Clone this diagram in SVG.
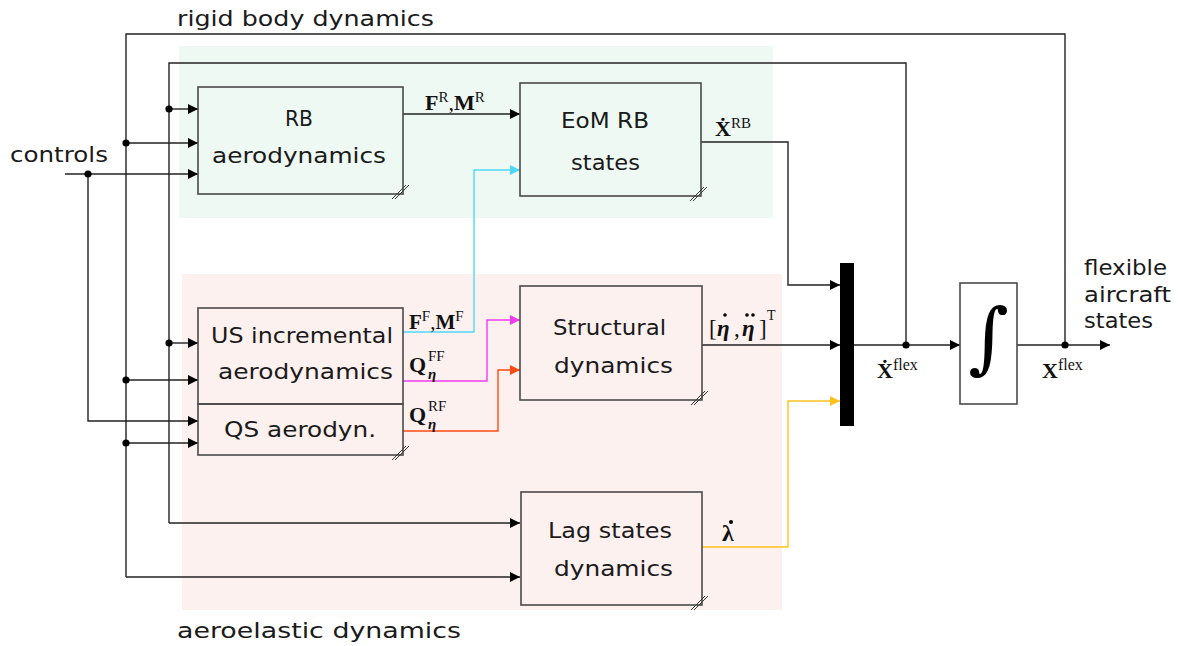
<svg xmlns="http://www.w3.org/2000/svg" width="1181" height="646" viewBox="0 0 1181 646">
<style>
.lbl{font-family:"DejaVu Sans","Liberation Sans",sans-serif;font-size:22px;fill:#1a1a1a}
.box{fill:none;stroke:#4a4a4a;stroke-width:1.6}
.wire{fill:none;stroke:#222;stroke-width:1.4}
.slash{stroke:#333;stroke-width:1}
.m{font-family:"Liberation Serif","DejaVu Serif",serif;fill:#111}
.b{font-weight:bold}
.bi{font-weight:bold;font-style:italic}
.dot{fill:#000}
</style>
<defs>
<marker id="ah" markerUnits="userSpaceOnUse" markerWidth="11" markerHeight="11" refX="10" refY="5" orient="auto"><path d="M0,0 L10,5 L0,10 z" fill="#000"/></marker>
<marker id="ahc" markerUnits="userSpaceOnUse" markerWidth="11" markerHeight="11" refX="10" refY="5" orient="auto"><path d="M0,0 L10,5 L0,10 z" fill="#4fd8f7"/></marker>
<marker id="ahm" markerUnits="userSpaceOnUse" markerWidth="11" markerHeight="11" refX="10" refY="5" orient="auto"><path d="M0,0 L10,5 L0,10 z" fill="#ee3cee"/></marker>
<marker id="aho" markerUnits="userSpaceOnUse" markerWidth="11" markerHeight="11" refX="10" refY="5" orient="auto"><path d="M0,0 L10,5 L0,10 z" fill="#ff4a14"/></marker>
<marker id="ahy" markerUnits="userSpaceOnUse" markerWidth="11" markerHeight="11" refX="10" refY="5" orient="auto"><path d="M0,0 L10,5 L0,10 z" fill="#ffc21c"/></marker>
</defs>

<g id="backgrounds">
<rect x="179" y="46" width="594" height="172" fill="#eef9f3"/>
<rect x="182" y="274" width="600" height="336" fill="#fdf1f0"/>
<text class="lbl" x="177" y="26" textLength="257" lengthAdjust="spacingAndGlyphs">rigid body dynamics</text>
<text class="lbl" x="177" y="638" textLength="284" lengthAdjust="spacingAndGlyphs">aeroelastic dynamics</text>
</g>

<g id="connectors">
<path class="wire" d="M126,577 V34 H1065 V345"/>
<path class="wire" d="M169,523 V63 H906 V345"/>
<path class="wire" d="M126,143 H198" marker-end="url(#ah)"/>
<path class="wire" d="M126,380 H198" marker-end="url(#ah)"/>
<path class="wire" d="M126,443 H198" marker-end="url(#ah)"/>
<path class="wire" d="M126,577 H520" marker-end="url(#ah)"/>
<path class="wire" d="M169,109 H198" marker-end="url(#ah)"/>
<path class="wire" d="M169,343 H198" marker-end="url(#ah)"/>
<path class="wire" d="M169,523 H520" marker-end="url(#ah)"/>
<path class="wire" d="M65,174 H198" marker-end="url(#ah)"/>
<path class="wire" d="M88,174 V421 H198" marker-end="url(#ah)"/>
<path class="wire" d="M403,114 H520" marker-end="url(#ah)"/>
<path class="wire" d="M701,142 H788 V285 H840" marker-end="url(#ah)"/>
<path class="wire" d="M702,345 H840" marker-end="url(#ah)"/>
<path class="wire" d="M854,345 H960" marker-end="url(#ah)"/>
<path class="wire" d="M1017,345 H1110" marker-end="url(#ah)"/>
<path fill="none" stroke="#4fd8f7" stroke-width="1.4" d="M403,332 H474 V170 H520" marker-end="url(#ahc)"/>
<path fill="none" stroke="#ee3cee" stroke-width="1.4" d="M403,381 H487 V320 H520" marker-end="url(#ahm)"/>
<path fill="none" stroke="#ff4a14" stroke-width="1.4" d="M403,431 H498 V370 H520" marker-end="url(#aho)"/>
<path fill="none" stroke="#ffc21c" stroke-width="1.4" d="M702,547 H788 V401 H840" marker-end="url(#ahy)"/>
<circle class="dot" cx="88" cy="174" r="3.6"/>
<circle class="dot" cx="126" cy="143" r="3.6"/>
<circle class="dot" cx="126" cy="380" r="3.6"/>
<circle class="dot" cx="126" cy="443" r="3.6"/>
<circle class="dot" cx="169" cy="109" r="3.6"/>
<circle class="dot" cx="169" cy="343" r="3.6"/>
<circle class="dot" cx="906" cy="345" r="3.6"/>
<circle class="dot" cx="1065" cy="345" r="3.6"/>

<text class="m" x="425" y="110" font-size="22"><tspan class="b">F</tspan><tspan font-size="15" dy="-8">R</tspan><tspan dy="8">,</tspan><tspan class="b">M</tspan><tspan font-size="15" dy="-8">R</tspan></text>
<text class="m" x="409" y="329" font-size="21"><tspan class="b">F</tspan><tspan font-size="15" dy="-8">F</tspan><tspan dy="8">,</tspan><tspan class="b">M</tspan><tspan font-size="15" dy="-8">F</tspan></text>
<text class="m" x="409" y="372" font-size="22"><tspan class="b">Q</tspan><tspan x="428" y="361" font-size="15">FF</tspan></text>
<text class="m bi" x="428" y="379" font-size="15">η</text>
<text class="m" x="409" y="422" font-size="22"><tspan class="b">Q</tspan><tspan x="428" y="411" font-size="15">RF</tspan></text>
<text class="m bi" x="428" y="429" font-size="15">η</text>
<text class="m" x="715" y="136" font-size="22"><tspan class="b">Ẋ</tspan><tspan font-size="15" dy="-8">RB</tspan></text>
<text class="m" y="336" font-size="23"><tspan x="709">[</tspan><tspan x="717" class="bi">η</tspan><tspan x="734">,</tspan><tspan x="742" class="bi">η</tspan><tspan x="759">]</tspan><tspan x="767" y="320" font-size="14">T</tspan></text>
<circle class="dot" cx="725" cy="315" r="1.8"/>
<circle class="dot" cx="747" cy="315" r="1.8"/>
<circle class="dot" cx="753" cy="315" r="1.8"/>
<text class="m b" x="722" y="541" font-size="24">λ</text>
<circle class="dot" cx="731" cy="522" r="2"/>
<text class="m" x="877" y="378" font-size="22"><tspan class="b">Ẋ</tspan><tspan font-size="16" dy="-8">flex</tspan></text>
<text class="m" x="1042" y="378" font-size="22"><tspan class="b">X</tspan><tspan font-size="16" dy="-8">flex</tspan></text>

<text class="lbl" x="10" y="162" textLength="98" lengthAdjust="spacingAndGlyphs">controls</text>
<text class="lbl" x="1084" y="275" textLength="83" lengthAdjust="spacingAndGlyphs">flexible</text>
<text class="lbl" x="1084" y="302" textLength="87" lengthAdjust="spacingAndGlyphs">aircraft</text>
<text class="lbl" x="1084" y="328" textLength="69" lengthAdjust="spacingAndGlyphs">states</text>
</g>

<g id="rb-aero">
<rect class="box" x="198" y="87" width="205" height="107"/>
<path class="slash" d="M392,199 L406,185 M395,199 L409,185"/>
<text class="lbl" x="285" y="126" textLength="28" lengthAdjust="spacingAndGlyphs">RB</text>
<text class="lbl" x="212" y="163" textLength="174" lengthAdjust="spacingAndGlyphs">aerodynamics</text>
</g>

<g id="eom-rb">
<rect class="box" x="520" y="83" width="181" height="113"/>
<path class="slash" d="M690,201 L704,187 M693,201 L707,187"/>
<text class="lbl" x="561" y="128" textLength="88" lengthAdjust="spacingAndGlyphs">EoM RB</text>
<text class="lbl" x="571" y="170" textLength="69" lengthAdjust="spacingAndGlyphs">states</text>
</g>

<g id="us-aero">
<rect class="box" x="198" y="308" width="205" height="96"/>
<text class="lbl" x="211" y="343" textLength="182" lengthAdjust="spacingAndGlyphs">US incremental</text>
<text class="lbl" x="218" y="379" textLength="175" lengthAdjust="spacingAndGlyphs">aerodynamics</text>
</g>

<g id="qs-aero">
<rect class="box" x="198" y="404" width="205" height="51"/>
<path class="slash" d="M392,460 L406,446 M395,460 L409,446"/>
<text class="lbl" x="224" y="437" textLength="152" lengthAdjust="spacingAndGlyphs">QS aerodyn.</text>
</g>

<g id="structural">
<rect class="box" x="520" y="286" width="182" height="114"/>
<path class="slash" d="M691,405 L705,391 M694,405 L708,391"/>
<text class="lbl" x="553" y="335" textLength="113" lengthAdjust="spacingAndGlyphs">Structural</text>
<text class="lbl" x="554" y="373" textLength="119" lengthAdjust="spacingAndGlyphs">dynamics</text>
</g>

<g id="lag">
<rect class="box" x="521" y="492" width="181" height="113"/>
<path class="slash" d="M691,610 L705,596 M694,610 L708,596"/>
<text class="lbl" x="548" y="538" textLength="124" lengthAdjust="spacingAndGlyphs">Lag states</text>
<text class="lbl" x="554" y="576" textLength="119" lengthAdjust="spacingAndGlyphs">dynamics</text>
</g>

<g id="mux">
<rect x="840" y="263" width="14" height="163" fill="#000"/>
</g>

<g id="integrator">
<rect class="box" x="960" y="283" width="57" height="121"/>
<text x="988.5" y="364" font-family="DejaVu Serif, serif" font-style="italic" font-size="78" text-anchor="middle" fill="#000">∫</text>
</g>
</svg>
